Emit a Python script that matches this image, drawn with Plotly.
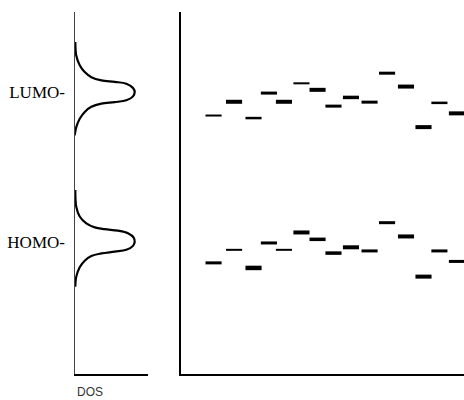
import plotly.graph_objects as go

# ---- data (energy in arbitrary units, DOS in arbitrary units) ----
lumo_dos = [0.011, 0.024, 0.071, 0.139, 0.229, 0.365, 0.547, 0.705, 0.796, 0.819,
            0.796, 0.705, 0.547, 0.365, 0.229, 0.139, 0.071, 0.024, 0.003]
lumo_E = [9.17, 8.80, 8.53, 8.34, 8.20, 8.11, 8.07, 8.02, 7.90, 7.79,
          7.67, 7.56, 7.51, 7.47, 7.38, 7.24, 7.05, 6.82, 6.59]
homo_dos = [0.011, 0.024, 0.071, 0.161, 0.275, 0.411, 0.592, 0.728, 0.805, 0.819,
            0.796, 0.705, 0.547, 0.365, 0.229, 0.139, 0.071, 0.024, 0.011]
homo_E = [5.08, 4.62, 4.35, 4.16, 4.05, 4.00, 3.96, 3.89, 3.77, 3.65,
          3.54, 3.43, 3.38, 3.33, 3.26, 3.13, 2.95, 2.69, 2.41]

level_labels = ["HOMO-", "LUMO-"]
level_values = [3.65, 7.79]

site_pos = [1.84, 3.00, 4.10, 4.97, 5.82, 6.81, 7.72, 8.62, 9.61, 10.66,
            11.65, 12.72, 13.71, 14.61, 15.60]
lumo_levels = [7.14, 7.52, 7.07, 7.76, 7.52, 8.03, 7.85, 7.40, 7.64, 7.51,
               8.31, 7.94, 6.82, 7.49, 7.20]
homo_levels = [3.07, 3.43, 2.93, 3.62, 3.43, 3.91, 3.72, 3.34, 3.50, 3.40,
               4.18, 3.80, 2.69, 3.40, 3.11]

# styles (line thickness of each level mark)
lumo_w = [2, 4, 2.5, 3, 4, 2, 4, 3, 3.5, 3, 3, 4, 4, 2.5, 4]
homo_w = [3, 2, 4.5, 3, 2, 4, 3.5, 3.5, 4, 3, 3, 4, 4, 3, 3]

fig = go.Figure()

for xs, ys in [(lumo_dos, lumo_E), (homo_dos, homo_E)]:
    fig.add_trace(go.Scatter(x=xs, y=ys, mode="lines", xaxis="x", yaxis="y",
                             line=dict(color="black", width=2.2, shape="spline"),
                             showlegend=False, hoverinfo="skip"))

for ys, ws in [(lumo_levels, lumo_w), (homo_levels, homo_w)]:
    fig.add_trace(go.Scatter(x=site_pos, y=ys, mode="markers", xaxis="x2", yaxis="y2",
                             marker=dict(symbol="line-ew", size=11.5, color="black",
                                         line=dict(color="black", width=ws)),
                             showlegend=False, hoverinfo="skip"))

fig.update_layout(
    width=464, height=400,
    margin=dict(l=0, r=0, t=0, b=0),
    paper_bgcolor="white", plot_bgcolor="white",
    xaxis=dict(domain=[74.5 / 464, 148 / 464], range=[0, 1], showline=True,
               linecolor="black", linewidth=1.5, showticklabels=False, ticks="",
               showgrid=False, zeroline=False, anchor="y"),
    yaxis=dict(domain=[0.065, 0.97], range=[0, 10], showline=True,
               linecolor="#444", linewidth=1.3, showgrid=False, zeroline=False,
               tickvals=level_values, ticktext=level_labels, ticks="",
               ticklabelstandoff=5, anchor="x",
               tickfont=dict(family="Liberation Serif", size=17, color="black")),
    xaxis2=dict(domain=[181 / 464, 1], range=[0, 16], showline=True,
                linecolor="black", linewidth=1.5, showticklabels=False, ticks="",
                showgrid=False, zeroline=False, anchor="y2"),
    yaxis2=dict(domain=[0.065, 0.97], range=[0, 10], matches="y", showline=True,
                linecolor="black", linewidth=1.5, showgrid=False, zeroline=False,
                showticklabels=False, ticks="", anchor="x2"),
    annotations=[dict(text="DOS", xref="x", x=0, xanchor="left", yref="paper", y=0.02,
                      yanchor="middle", showarrow=False,
                      font=dict(family="Liberation Sans", size=12, color="#333"))],
)

fig.write_html(
    "out.html",
    config={"displayModeBar": False},
    post_script="document.body.style.margin='0';document.body.style.overflow='hidden';",
)
